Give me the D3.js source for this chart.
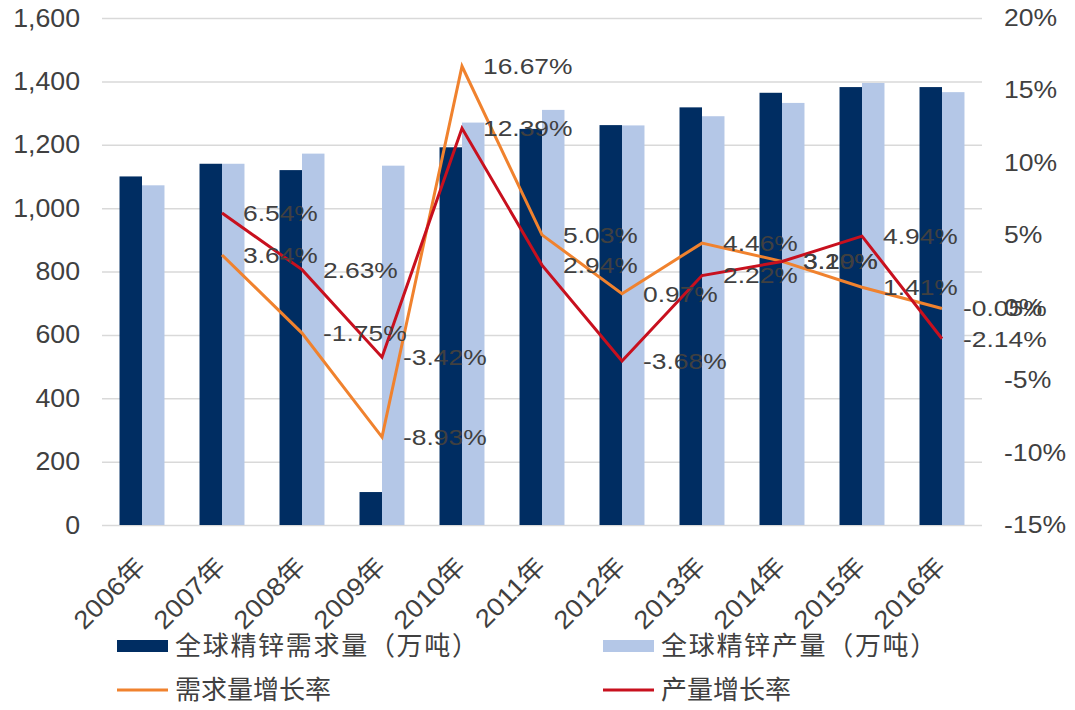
<!DOCTYPE html>
<html>
<head>
<meta charset="utf-8">
<script src="https://cdn.jsdelivr.net/npm/d3@7"></script>
<style>
  body { margin: 0; background: #fff; }
  svg { display: block; }
  .num { font-family: "Liberation Sans", Arial, "Noto Sans CJK SC", sans-serif; fill: #404040; }
  .cjk { font-family: "Noto Sans CJK SC", sans-serif; fill: #404040; }
</style>
</head>
<body>
<div id="chart"></div>
<script>
  // chart data
  var years = ['2006年', '2007年', '2008年', '2009年', '2010年', '2011年', '2012年', '2013年', '2014年', '2015年', '2016年'];
  var demand = [1100, 1140, 1120, 104, 1192, 1250, 1262, 1318, 1364, 1382, 1382];
  var output = [1072, 1140, 1172, 1134, 1270, 1310, 1261, 1290, 1332, 1395, 1366];
  var demandGrowth = [null, 3.64, -1.75, -8.93, 16.67, 5.03, 0.97, 4.46, 3.20, 1.41, -0.05];
  var outputGrowth = [null, 6.54, 2.63, -3.42, 12.39, 2.94, -3.68, 2.22, 3.19, 4.94, -2.14];
  var leftTicks = [0, 200, 400, 600, 800, 1000, 1200, 1400, 1600];
  var rightTicks = [-15, -10, -5, 0, 5, 10, 15, 20];
  var seriesNames = ['全球精锌需求量（万吨）', '全球精锌产量（万吨）', '需求量增长率', '产量增长率'];

  var WIDTH = 1075, HEIGHT = 710;
  var PLOT = { LEFT: 102, RIGHT: 982, TOP: 18, BOTTOM: 525 };
  var DARK = '#002d62', LIGHT = '#b4c7e7', ORANGE = '#f0822e', RED = '#c8101e';

  var svg = d3.select('#chart').append('svg')
    .attr('width', WIDTH)
    .attr('height', HEIGHT);

  var x = d3.scaleBand()
    .domain(years)
    .range([PLOT.LEFT, PLOT.RIGHT])
    .padding(0);

  var xSub = d3.scaleBand()
    .domain(['demand', 'output'])
    .range([x.bandwidth() * 0.219, x.bandwidth() * 0.781]);

  var yL = d3.scaleLinear().domain([0, 1600]).range([PLOT.BOTTOM, PLOT.TOP]);
  var yR = d3.scaleLinear().domain([-15, 20]).range([PLOT.BOTTOM, PLOT.TOP]);

  // grid + left axis
  var leftAxis = svg.append('g')
    .attr('transform', 'translate(' + PLOT.LEFT + ',0)')
    .call(d3.axisLeft(yL)
      .tickValues(leftTicks)
      .tickSize(-(PLOT.RIGHT - PLOT.LEFT))
      .tickPadding(20.5)
      .tickFormat(d3.format(',')));
  leftAxis.select('.domain').remove();
  leftAxis.selectAll('line').attr('stroke', '#d9d9d9').attr('stroke-width', 1.5);
  leftAxis.selectAll('text')
    .attr('class', 'num')
    .style('font-size', '25px')
    .attr('transform', 'scale(1.07,1)');

  // right axis
  var rightAxis = svg.append('g')
    .attr('transform', 'translate(' + PLOT.RIGHT + ',0)')
    .call(d3.axisRight(yR)
      .tickValues(rightTicks)
      .tickSize(0)
      .tickPadding(19.5)
      .tickFormat(function(d) { return d + '%'; }));
  rightAxis.select('.domain').remove();
  rightAxis.selectAll('text')
    .attr('class', 'num')
    .style('font-size', '23.5px')
    .attr('transform', 'scale(1.13,1)');

  // bars
  var groups = svg.append('g').selectAll('g')
    .data(years)
    .enter().append('g')
    .attr('transform', function(d) { return 'translate(' + x(d) + ',0)'; });

  groups.append('rect')
    .attr('x', xSub('demand'))
    .attr('width', xSub.bandwidth())
    .attr('y', function(d, i) { return yL(demand[i]); })
    .attr('height', function(d, i) { return PLOT.BOTTOM - yL(demand[i]); })
    .style('fill', DARK);

  groups.append('rect')
    .attr('x', xSub('output'))
    .attr('width', xSub.bandwidth())
    .attr('y', function(d, i) { return yL(output[i]); })
    .attr('height', function(d, i) { return PLOT.BOTTOM - yL(output[i]); })
    .style('fill', LIGHT);

  // x axis labels
  var xAxis = svg.append('g')
    .attr('transform', 'translate(0,' + PLOT.BOTTOM + ')')
    .call(d3.axisBottom(x).tickSize(0).tickPadding(0));
  xAxis.select('.domain').remove();
  xAxis.selectAll('text')
    .attr('class', 'num')
    .style('font-size', '25.5px')
    .attr('text-anchor', 'end')
    .attr('y', 0)
    .attr('dy', 0)
    .attr('transform', 'translate(5,43) rotate(-45) scale(1.08,1)');

  // growth lines
  var cx = function(i) { return x(years[i]) + x.bandwidth() / 2; };
  var line = d3.line()
    .defined(function(d) { return d !== null; })
    .x(function(d, i) { return cx(i); })
    .y(function(d) { return yR(d); });

  svg.append('path')
    .datum(demandGrowth)
    .attr('d', line)
    .style('fill', 'none')
    .style('stroke', ORANGE)
    .style('stroke-width', 3);

  svg.append('path')
    .datum(outputGrowth)
    .attr('d', line)
    .style('fill', 'none')
    .style('stroke', RED)
    .style('stroke-width', 3);

  // data labels, right of each point
  function labels(values) {
    svg.append('g').selectAll('text')
      .data(values)
      .enter().filter(function(d) { return d !== null; })
      .append('text')
      .attr('class', 'num')
      .style('font-size', '22px')
      .attr('dy', '0.36em')
      .attr('transform', function(d) {
        var k = values.indexOf(d);
        return 'translate(' + (cx(k) + 21) + ',' + yR(d) + ') scale(1.2,1)';
      })
      .text(function(d) { return d.toFixed(2) + '%'; });
  }
  labels(demandGrowth);
  labels(outputGrowth);

  // legend
  var legend = svg.append('g');
  var items = [
    { x: 117, y: 646, type: 'rect', color: DARK, gap: 1.7 },
    { x: 603, y: 646, type: 'rect', color: LIGHT, gap: 1.7 },
    { x: 117, y: 690, type: 'line', color: ORANGE, gap: 0 },
    { x: 603, y: 690, type: 'line', color: RED, gap: 0 }
  ];
  items.forEach(function(it, i) {
    if (it.type === 'rect') {
      legend.append('rect')
        .attr('x', it.x).attr('y', it.y - 6)
        .attr('width', 51).attr('height', 12)
        .style('fill', it.color);
    } else {
      legend.append('line')
        .attr('x1', it.x).attr('x2', it.x + 51)
        .attr('y1', it.y).attr('y2', it.y)
        .style('stroke', it.color)
        .style('stroke-width', 3);
    }
    legend.append('text')
      .attr('class', 'cjk')
      .attr('x', it.x + 58)
      .attr('y', it.y)
      .attr('dy', '0.36em')
      .style('font-size', '26px')
      .style('letter-spacing', it.gap + 'px')
      .text(seriesNames[i]);
  });
</script>
</body>
</html>
